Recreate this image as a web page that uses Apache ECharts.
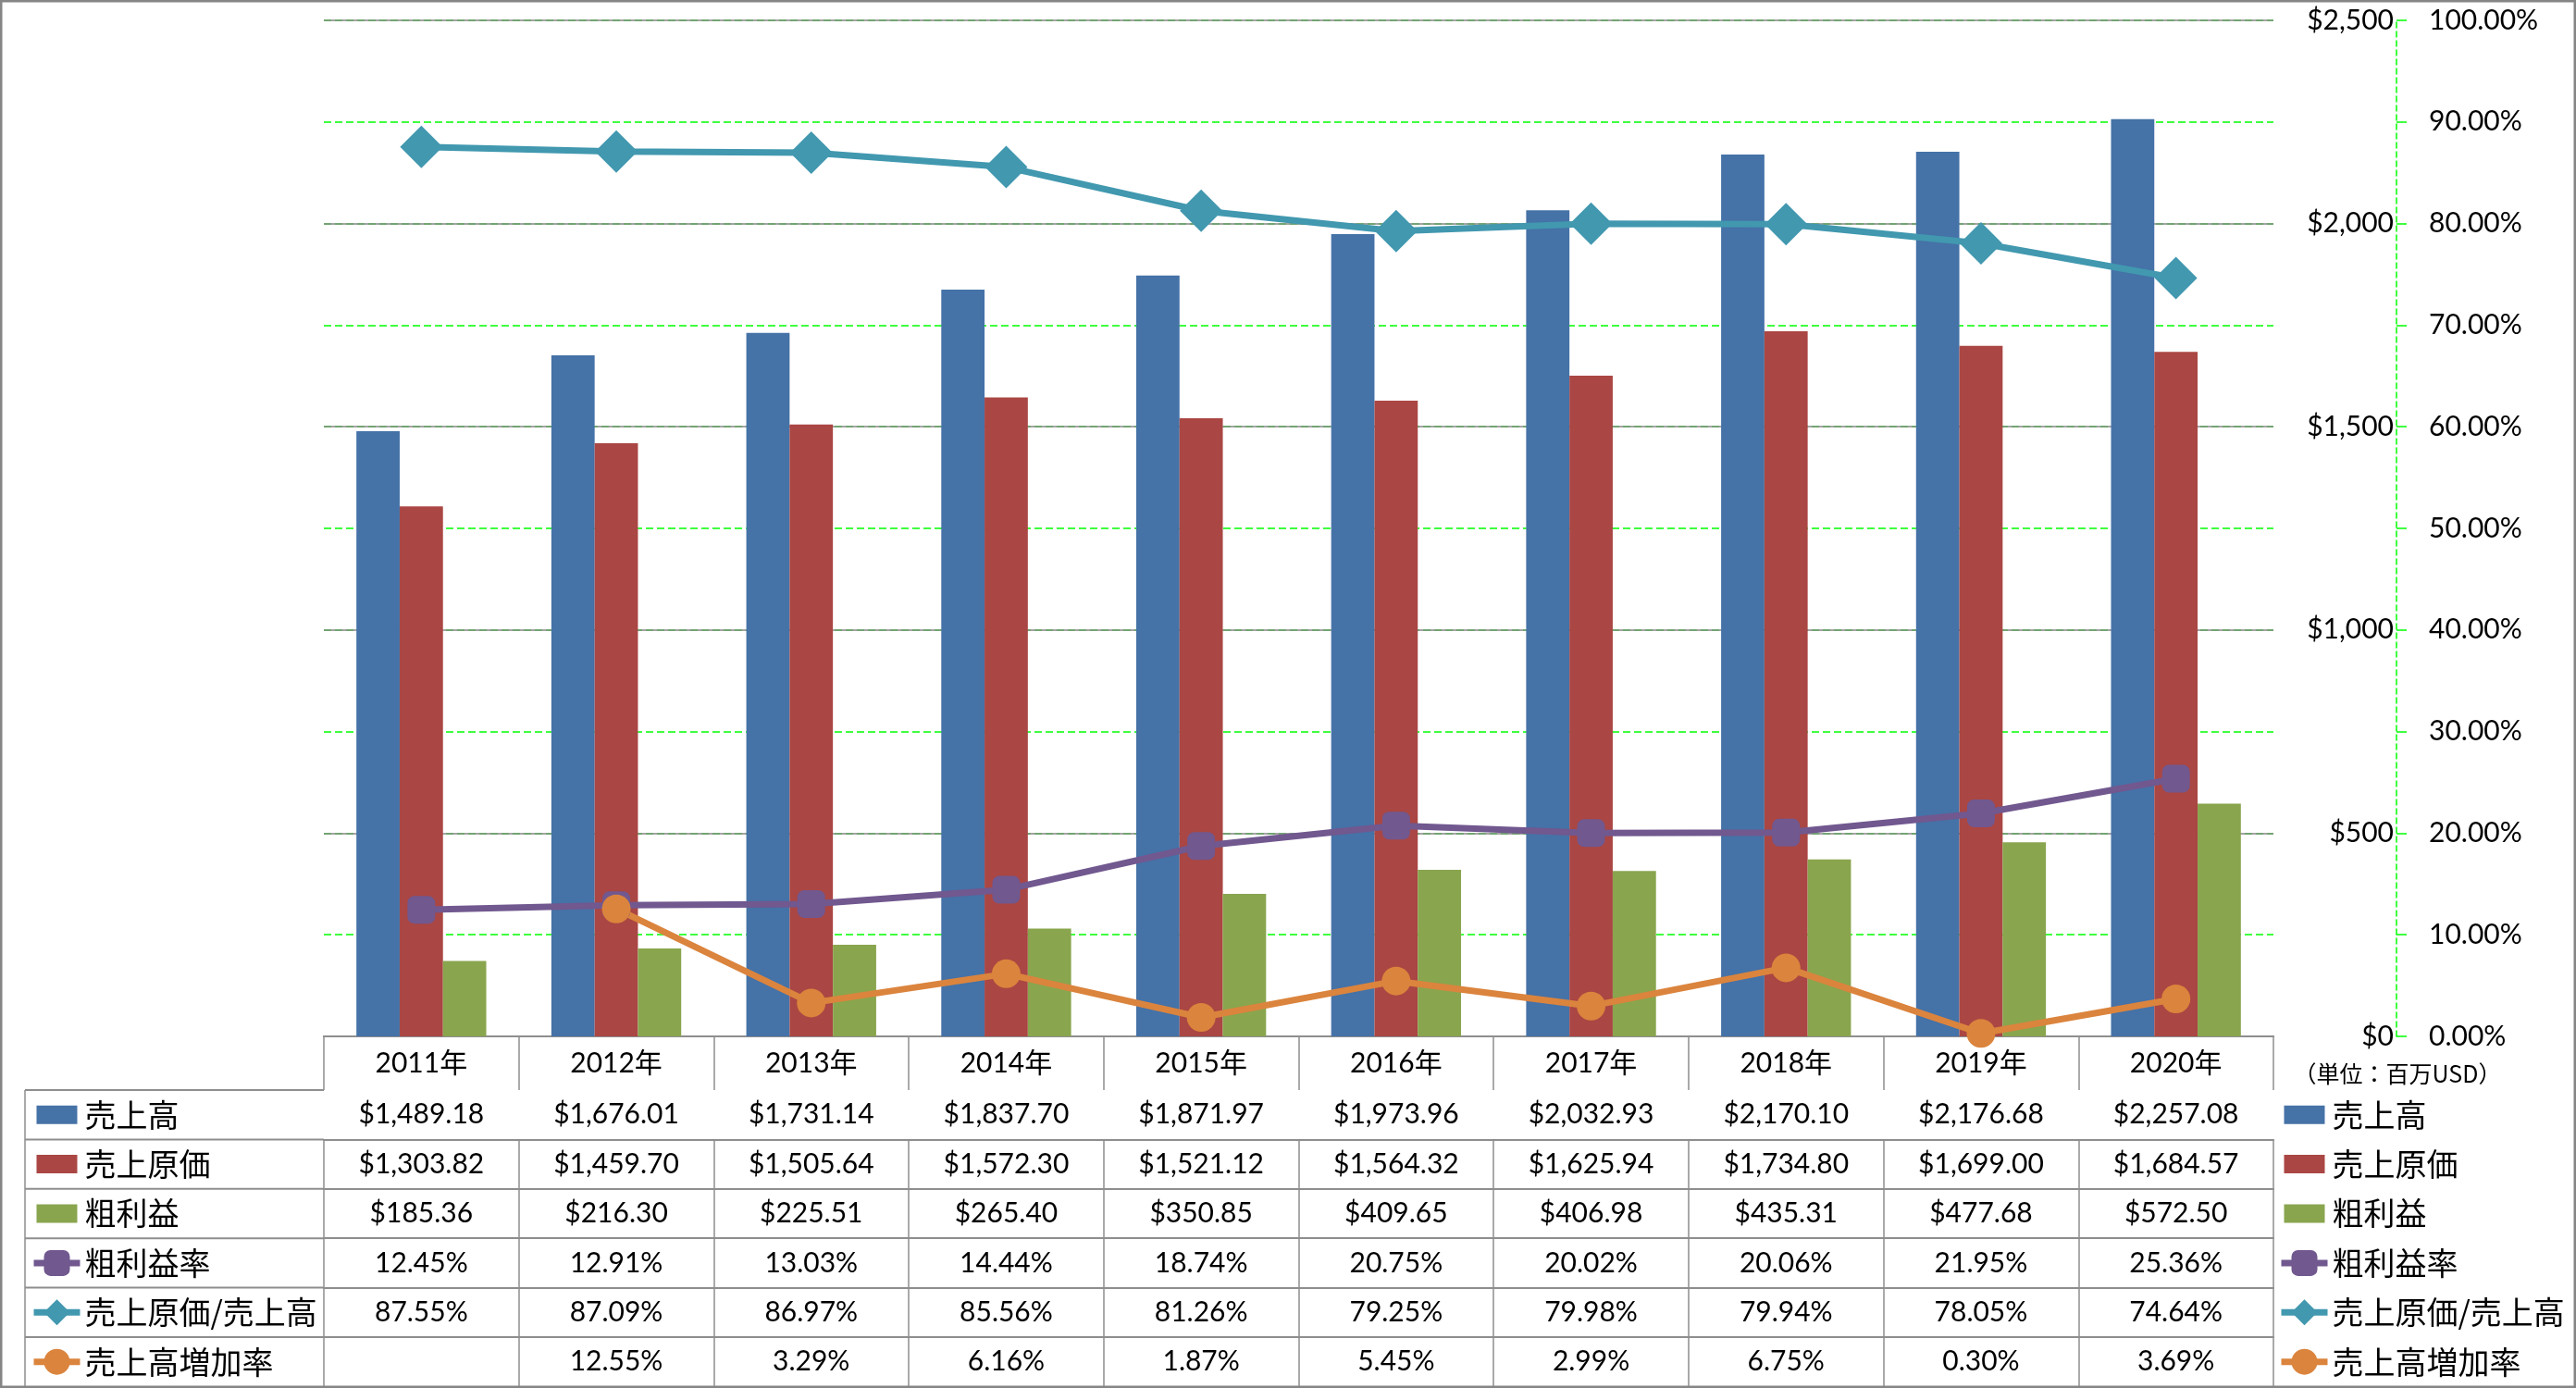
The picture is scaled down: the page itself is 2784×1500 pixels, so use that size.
<!DOCTYPE html>
<html><head><meta charset="utf-8">
<script src="https://cdn.jsdelivr.net/npm/echarts@6/dist/echarts.min.js"></script>
<style>html,body{margin:0;padding:0;background:#fff}#c{width:2784px;height:1500px}</style>
</head><body><div id="c"></div><script>
// ---- data ----
const years = ['2011年','2012年','2013年','2014年','2015年','2016年','2017年','2018年','2019年','2020年'];
const sales = [1489.18, 1676.01, 1731.14, 1837.70, 1871.97, 1973.96, 2032.93, 2170.10, 2176.68, 2257.08];
const cogs = [1303.82, 1459.70, 1505.64, 1572.30, 1521.12, 1564.32, 1625.94, 1734.80, 1699.00, 1684.57];
const gross = [185.36, 216.30, 225.51, 265.40, 350.85, 409.65, 406.98, 435.31, 477.68, 572.50];
const grossMargin = [12.45, 12.91, 13.03, 14.44, 18.74, 20.75, 20.02, 20.06, 21.95, 25.36];
const cogsRatio = [87.55, 87.09, 86.97, 85.56, 81.26, 79.25, 79.98, 79.94, 78.05, 74.64];
const salesGrowth = [null, 12.55, 3.29, 6.16, 1.87, 5.45, 2.99, 6.75, 0.30, 3.69];
const seriesNames = ['売上高','売上原価','粗利益','粗利益率','売上原価/売上高','売上高増加率'];
const unitText = '（単位：百万USD）';

// ---- layout / style ----
const W = 2784, H = 1500;
const plotL = 350, plotR = 2457, plotT = 22, plotB = 1120;
const headerH = 58, rowH = 53.4, tableL = 27;
const axisOffset = 133;
const colors = ['#4572A7','#AA4643','#89A54E','#71588F','#4198AF','#DB843D'];
const numFont = 'Lato, "Noto Sans CJK JP", sans-serif';
const cjkFont = '"Noto Sans CJK JP", sans-serif';
const gridGrey = '#868686';
const tableGrey = '#8e8e8e';
const tableFontSize = 30;

const money = v => v == null ? '' : '$' + v.toLocaleString('en-US', {minimumFractionDigits: 2, maximumFractionDigits: 2});
const pct = v => v == null ? '' : v.toFixed(2) + '%';
const rowData = [sales, cogs, gross, grossMargin, cogsRatio, salesGrowth];
const rowFmt = [money, money, money, pct, pct, pct];

const chart = echarts.init(document.getElementById('c'), null, {renderer: 'canvas'});

const baseX = {
  type: 'category', data: years, position: 'bottom', gridIndex: 0,
  axisLine: {show: true, lineStyle: {color: tableGrey, width: 2}},
  splitLine: {show: false},
};
const xAxes = [Object.assign({}, baseX, {
  axisLine: {show: true, lineStyle: {color: gridGrey, width: 2}},
  axisTick: {show: true, length: headerH, interval: 0, alignWithLabel: false, lineStyle: {color: tableGrey, width: 1.5}},
  axisLabel: {interval: 0, verticalAlign: 'middle', margin: headerH / 2, fontSize: tableFontSize, fontFamily: numFont, color: '#000'}
})];
rowData.forEach((arr, k) => {
  xAxes.push(Object.assign({}, baseX, {
    offset: headerH + k * rowH,
    axisTick: {show: true, length: rowH, interval: 0, alignWithLabel: false, lineStyle: {color: tableGrey, width: 1.5}},
    axisLabel: {interval: 0, verticalAlign: 'middle', margin: rowH / 2, fontSize: tableFontSize, fontFamily: numFont, color: '#000',
      formatter: (v, i) => rowFmt[k](arr[i])}
  }));
});

const legendCommon = {
  orient: 'vertical', padding: 0, itemWidth: 50, itemHeight: 35, itemGap: rowH - 35,
  selectedMode: false,
  lineStyle: {width: 7},
  textStyle: {fontSize: 34, fontFamily: cjkFont, color: '#000', lineHeight: 35},
  data: seriesNames.map((n, i) => i < 3 ? {name: n, icon: 'path://M0,0L0.01,0M50,35L50.01,35M3,7.5H47V27.5H3Z'} : {name: n})
};
const legendTop = plotB + headerH + (rowH - 35) / 2;

const graphics = [
  {type: 'rect', shape: {x: 1.25, y: 1.25, width: W - 2.5, height: H - 2.5}, style: {fill: 'none', stroke: gridGrey, lineWidth: 2.5}, z: 100},
  {type: 'line', shape: {x1: tableL, y1: plotB + headerH, x2: tableL, y2: H}, style: {stroke: tableGrey, lineWidth: 1.5}},
  {type: 'text', x: plotR + axisOffset + 1, y: 1160, style: {text: unitText, fontSize: 25, fontFamily: cjkFont, fill: '#000', align: 'center', verticalAlign: 'middle'}}
];
for (let k = 0; k < 6; k++) {
  const y = plotB + headerH + k * rowH;
  graphics.push({type: 'line', shape: {x1: tableL, y1: y, x2: plotL, y2: y}, style: {stroke: tableGrey, lineWidth: 2}});
}

const barCommon = {type: 'bar', barWidth: '22.2%', barGap: '0%', xAxisIndex: 0, yAxisIndex: 1};
const lineCommon = {type: 'line', xAxisIndex: 0, yAxisIndex: 0, showAllSymbol: true, z: 5};

chart.setOption({
  animation: false,
  backgroundColor: '#fff',
  grid: {left: plotL, right: W - plotR, top: plotT, bottom: H - plotB, containLabel: false, outerBoundsMode: 'none'},
  legend: [
    Object.assign({}, legendCommon, {left: 33, top: legendTop}),
    Object.assign({}, legendCommon, {left: 2462, top: legendTop})
  ],
  xAxis: xAxes,
  yAxis: [
    {type: 'value', position: 'right', offset: axisOffset, min: 0, max: 100, interval: 10,
      axisLine: {show: true, lineStyle: {color: '#00ff00', width: 1.5, type: [6, 4]}},
      axisTick: {show: true, inside: false, length: 11, lineStyle: {color: '#00ff00', width: 1.5}},
      axisLabel: {margin: 35, fontSize: 30, fontFamily: numFont, color: '#000', formatter: v => v.toFixed(2) + '%'},
      splitLine: {show: true, lineStyle: {color: '#00ff00', width: 1.5, type: [8, 4]}}},
    {type: 'value', position: 'right', offset: axisOffset, min: 0, max: 2500, interval: 500,
      axisLine: {show: false}, axisTick: {show: false},
      axisLabel: {inside: true, margin: 3, fontSize: 30, fontFamily: numFont, color: '#000', formatter: v => '$' + v.toLocaleString('en-US')},
      splitLine: {show: true, lineStyle: {color: gridGrey, width: 1.5}}}
  ],
  graphic: graphics,
  series: [
    Object.assign({}, barCommon, {name: seriesNames[0], data: sales, itemStyle: {color: colors[0]}}),
    Object.assign({}, barCommon, {name: seriesNames[1], data: cogs, itemStyle: {color: colors[1]}}),
    Object.assign({}, barCommon, {name: seriesNames[2], data: gross, itemStyle: {color: colors[2]}}),
    Object.assign({}, lineCommon, {name: seriesNames[3], data: grossMargin, symbol: 'roundRect', symbolSize: 30,
      lineStyle: {width: 7, color: colors[3]}, itemStyle: {color: colors[3]}}),
    Object.assign({}, lineCommon, {name: seriesNames[4], data: cogsRatio, symbol: 'diamond', symbolSize: 46,
      lineStyle: {width: 7, color: colors[4]}, itemStyle: {color: colors[4]}}),
    Object.assign({}, lineCommon, {name: seriesNames[5], data: salesGrowth, symbol: 'circle', symbolSize: 31,
      lineStyle: {width: 7, color: colors[5]}, itemStyle: {color: colors[5]}})
  ]
});
</script></body></html>
